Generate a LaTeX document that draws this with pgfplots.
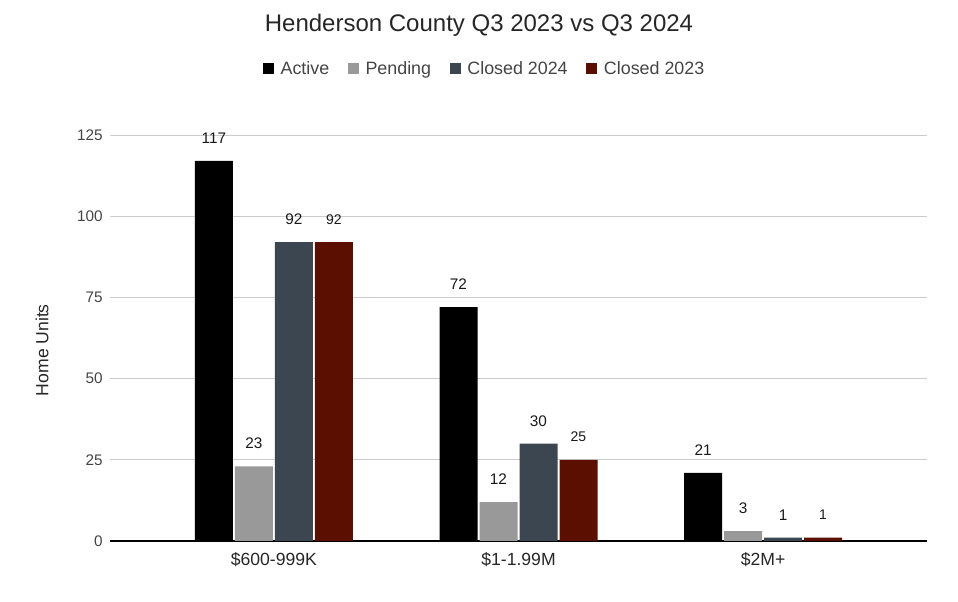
\documentclass[border=0pt]{standalone}
\usepackage{pgfplots}
\pgfplotsset{compat=1.18}
\usepackage{fontspec}
\setmainfont{Liberation Sans}
\definecolor{cActive}{HTML}{000000}
\definecolor{cPending}{HTML}{999999}
\definecolor{cClosedA}{HTML}{3C4650}
\definecolor{cClosedB}{HTML}{5B0F00}
\definecolor{gridgray}{HTML}{CCCCCC}
\definecolor{ticktext}{HTML}{444444}

\pgfplotstableread{
x active pending closedA closedB
0 117 23 92 92
1 72 12 30 25
2 21 3 1 1
}\homedata

\begin{document}
\begin{tikzpicture}
% page frame: 958x602 px, plot area lower left at px (110,541)
\path[use as bounding box] (-82.5pt,-45.75pt) rectangle (636pt,405.75pt);
\begin{axis}[
    scale only axis,
    width=612.75pt, height=304.5pt,
    ybar, bar width=28.5pt,
    xmin=-0.67, xmax=2.67,
    ymin=0, ymax=125,
    xtick=data,
    xticklabels={\$600-999K,\$1-1.99M,\$2M+},
    ytick={0,25,...,125},
    major tick length=0pt,
    axis x line*=bottom,
    axis y line*=left,
    x axis line style={black, line width=0.8pt},
    y axis line style={draw=none},
    ymajorgrids, grid style={gridgray, line width=0.6pt},
    /pgf/number format/assume math mode=true,
    xticklabel style={font=\fontsize{13.2}{15}\selectfont, text=black!85, yshift=-5pt},
    yticklabel style={font=\fontsize{11.5}{13}\selectfont, text=ticktext, xshift=-2pt},
    ylabel={Home Units},
    ylabel style={font=\fontsize{13.2}{15}\selectfont, text=black!85, at={(axis description cs:-0.0832,0.47)}, anchor=center},
    nodes near coords,
    every node near coord/.append style={font=\fontsize{11.5}{13}\selectfont, text=black!90, anchor=center, inner sep=0pt, yshift=17pt},
    legend columns=4,
    legend style={at={(0.459,1.163)}, anchor=center, draw=none, fill=none,
        font=\fontsize{13.4}{15}\selectfont, text=ticktext,
        /tikz/every odd column/.append style={column sep=3pt},
        /tikz/every even column/.append style={column sep=12pt}},
    legend image code/.code={\fill[#1] (0pt,-4.1pt) rectangle (8.2pt,4.1pt);},
]
\addplot[fill=cActive, draw=none, bar shift=-45pt] table[x=x, y=active] {\homedata};
\addlegendentry{Active}
\addplot[fill=cPending, draw=none, bar shift=-15pt] table[x=x, y=pending] {\homedata};
\addlegendentry{Pending}
\addplot[fill=cClosedA, draw=none, bar shift=15pt] table[x=x, y=closedA] {\homedata};
\addlegendentry{Closed 2024}
\addplot[fill=cClosedB, draw=none, bar shift=45pt,
    every node near coord/.append style={font=\fontsize{10.5}{12}\selectfont}] table[x=x, y=closedB] {\homedata};
\addlegendentry{Closed 2023}
\end{axis}
\node[font=\fontsize{18}{21}\selectfont, text=black!85] at (276.75pt,387pt) {Henderson County Q3 2023 vs Q3 2024};
\end{tikzpicture}
\end{document}
